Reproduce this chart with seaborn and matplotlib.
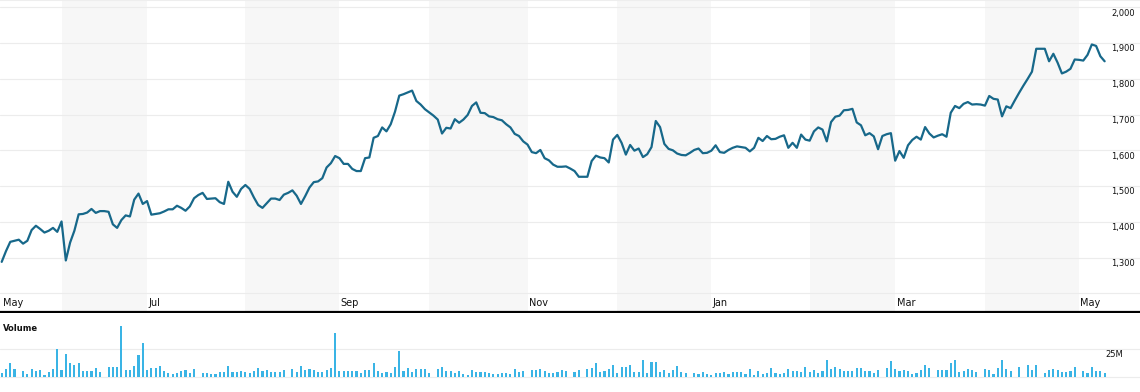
import matplotlib

matplotlib.use("Agg")

import matplotlib.pyplot as plt
import numpy as np
import pandas as pd
import seaborn as sns


# trading-day calendar: one label per month, shaded every other month
MONTH_LABELS = ["May", "Jun", "Jul", "Aug", "Sep", "Oct", "Nov", "Dec",
                "Jan", "Feb", "Mar", "Apr", "May"]
MONTH_DAYS = [14, 20, 23, 22, 21, 23, 21, 22, 23, 20, 21, 22, 7]

CLOSE = [
    1288, 1318, 1344, 1347, 1350, 1339, 1347, 1377, 1389, 1380, 1370, 1375, 1383, 1372, 1401,
    1292, 1342, 1375, 1421, 1422, 1426, 1436, 1425, 1430, 1430, 1428, 1393, 1383, 1405, 1418,
    1415, 1462, 1479, 1450, 1458, 1420, 1422, 1424, 1429, 1435, 1435, 1445, 1439, 1431, 1443,
    1466, 1475, 1481, 1464, 1465, 1466, 1455, 1450, 1512, 1484, 1470, 1492, 1503, 1492, 1468,
    1447, 1439, 1452, 1465, 1465, 1461, 1476, 1481, 1488, 1473, 1450, 1472, 1496, 1511, 1513,
    1522, 1552, 1564, 1584, 1578, 1562, 1562, 1548, 1542, 1542, 1578, 1580, 1635,
    1640, 1664, 1653, 1673, 1708, 1753, 1757, 1762, 1767, 1738, 1728, 1715, 1706, 1697, 1686,
    1647, 1663, 1661, 1687, 1677, 1686, 1699, 1724, 1734, 1705, 1704, 1695, 1693, 1687, 1684,
    1673, 1664, 1646, 1640, 1625, 1616, 1595, 1592, 1601, 1578, 1572, 1560, 1554, 1554,
    1555, 1549, 1542, 1526, 1526, 1526, 1570, 1585, 1580, 1578, 1566, 1630, 1643, 1621, 1588,
    1615, 1599, 1605, 1581, 1589, 1609, 1682, 1665, 1618, 1604, 1600, 1591, 1587, 1586, 1593,
    1601, 1605, 1592, 1593, 1599, 1614, 1595, 1593, 1601, 1607, 1611, 1609, 1607, 1597,
    1607, 1635, 1626, 1640, 1631, 1632, 1638, 1642, 1607, 1621, 1607, 1644, 1630, 1627, 1653,
    1664, 1658, 1625, 1679, 1694, 1697, 1712, 1713, 1716, 1678, 1670, 1642, 1648, 1639, 1603,
    1640, 1645, 1648, 1571, 1598, 1579, 1614, 1629, 1638, 1630, 1665, 1647, 1636,
    1641, 1645, 1638, 1705, 1724, 1718, 1730, 1735, 1728, 1729, 1728, 1725, 1752, 1744, 1742,
    1695, 1723, 1718, 1740, 1761, 1781, 1800, 1820, 1884, 1884, 1884, 1849, 1870, 1845, 1815,
    1820, 1828, 1854, 1853, 1851, 1867, 1896, 1892, 1863, 1849,
]

# volume in millions of shares
VOLUME_M = [
    3.7, 7.0, 12.8, 7.3, 0, 5.5, 2.4, 7.0, 5.5, 6.1, 1.8, 4.6, 7.3, 25.3, 6.4, 20.7, 12.8, 10.7,
    12.8, 5.2, 5.2, 5.5, 7.9, 4.6, 0, 8.8, 8.8, 8.8, 45.7, 6.1, 6.4, 9.8, 19.8, 30.2, 6.1, 7.9,
    7.9, 9.8, 5.5, 3.7, 2.7, 3.7, 4.9, 6.4, 3.4, 6.7, 0, 3.7, 3.7, 3.0, 2.4, 4.6, 4.6, 9.8, 4.6,
    4.6, 5.2, 4.3, 3.7, 4.9, 7.6, 5.5, 6.1, 4.6, 4.6, 4.6, 6.1, 0, 7.0, 4.6, 9.8, 6.4, 7.0, 6.4,
    4.6, 4.6, 6.1, 7.9, 39.0, 5.2, 4.9, 5.2, 5.2, 5.2, 3.7, 6.1, 6.1, 12.8, 5.2,
    3.7, 4.6, 3.7, 8.8, 22.9, 5.5, 7.9, 4.6, 7.0, 7.0, 7.0, 3.7, 0, 7.0, 8.8, 5.5, 5.5, 3.7, 5.2,
    2.4, 1.5, 6.1, 4.3, 4.3, 4.3, 3.7, 2.7, 2.7, 3.7, 3.7, 2.7, 7.0, 4.6, 5.5, 0, 6.1, 6.1, 7.0,
    5.5, 3.7, 3.7, 4.6, 6.1, 5.5, 0, 4.6, 6.1, 0, 7.0, 7.9, 12.8, 4.6, 5.5, 7.0, 10.7, 3.7, 8.8,
    8.8, 10.7, 4.6, 4.6, 15.3, 3.7, 13.4, 13.4, 4.6, 6.1, 3.7, 6.1, 9.8, 4.6, 3.7, 0, 3.7, 2.7,
    4.6, 2.7, 1.8, 3.7, 3.7, 4.6, 2.7, 4.6, 4.6, 4.6, 2.7, 7.0, 1.8, 5.2,
    2.4, 3.7, 7.9, 3.7, 2.7, 3.7, 7.0, 5.5, 5.5, 4.6, 8.8, 4.6, 6.1, 3.7, 5.5, 15.3, 7.0, 8.8,
    7.0, 5.5, 5.5, 5.5, 7.9, 7.9, 5.5, 5.5, 3.7, 6.1, 0, 7.9, 14.3, 7.0, 5.5, 6.1, 5.5, 2.7, 3.7,
    6.1, 10.7, 7.9, 0, 6.1, 6.1, 6.1, 12.8, 15.3, 4.6, 5.5, 7.0, 6.1, 4.6, 0, 7.0, 6.1, 2.7, 7.9,
    15.3, 7.0, 5.5, 0, 8.8, 0, 10.7, 6.1, 10.7, 0, 3.7, 6.1, 7.0, 6.1, 4.6, 4.6, 5.5, 8.8, 0,
    5.5, 3.7, 8.8, 5.5, 5.5, 3.7,
]

PRICE_GRID = list(range(1200, 2001, 100))
PRICE_LABELS = PRICE_GRID[1:]
VOLUME_GRID = [0, 25]
VOLUME_LABEL = "25M"

LINE_COLOR = "#17688a"
BAR_COLOR = "#3ab4e5"
SHADE_COLOR = "#f7f7f7"
GRID_COLOR = "#ececec"
TEXT_COLOR = "#111111"


def main() -> None:
    sns.set_theme(style="white")
    plt.rcParams["font.family"] = ["DejaVu Sans"]

    df = pd.DataFrame({"day": np.arange(len(CLOSE)), "close": CLOSE, "volume": VOLUME_M})
    starts = np.concatenate([[0], np.cumsum(MONTH_DAYS)])

    W, H = 1140, 392
    fig = plt.figure(figsize=(W / 100, H / 100), dpi=100)
    ax = fig.add_axes([0, 80 / H, 1, 312 / H])
    vax = fig.add_axes([0, 0, 1, 79 / H])

    px_per_day = 4.275
    xlim = (-1.7 / px_per_day, (W - 1.7) / px_per_day)

    # price panel
    for k, label in enumerate(MONTH_LABELS):
        if k % 2 == 1:
            ax.axvspan(starts[k], starts[k + 1], color=SHADE_COLOR, lw=0, zorder=0)
        else:
            ax.annotate(label, xy=(starts[k], 0.03), xycoords=("data", "axes fraction"),
                        xytext=(1, 0), textcoords="offset points",
                        ha="left", va="center", fontsize=7, color=TEXT_COLOR)
    for v in PRICE_GRID:
        ax.axhline(v, color=GRID_COLOR, lw=0.8, zorder=1)

    sns.lineplot(data=df, x="day", y="close", color=LINE_COLOR, linewidth=1.6, ax=ax, zorder=3)

    for v in PRICE_LABELS:
        ax.annotate(f"{v:,}", xy=(1111 / W, v), xycoords=("axes fraction", "data"),
                    xytext=(0, -1), textcoords="offset points",
                    ha="left", va="top", fontsize=6, color=TEXT_COLOR)

    ax.set_xlim(*xlim)
    ax.set_ylim(1147.8, 2020.4)
    ax.set_xticks([])
    ax.set_yticks([])
    ax.set_xlabel("")
    ax.set_ylabel("")
    for side in ("left", "right"):
        ax.spines[side].set_visible(False)
    ax.spines["top"].set_color("#eeeeee")
    ax.spines["top"].set_linewidth(0.8)
    ax.spines["bottom"].set_color("black")
    ax.spines["bottom"].set_linewidth(1.6)

    # volume panel
    for v in VOLUME_GRID:
        vax.axhline(v, color=GRID_COLOR, lw=0.8, zorder=0)
    sns.barplot(data=df, x="day", y="volume", native_scale=True, width=0.5,
                color=BAR_COLOR, saturation=1, linewidth=0, errorbar=None, ax=vax, zorder=2)
    for bar in vax.patches:
        bar.set_antialiased(False)
    vax.set_xlim(*xlim)
    vax.set_ylim(-13.4, 57.1)
    vax.set_xticks([])
    vax.set_yticks([])
    vax.set_xlabel("")
    vax.set_ylabel("")
    for side in ("left", "right", "top", "bottom"):
        vax.spines[side].set_visible(False)
    vax.text(3 / W, 0.81, "Volume", transform=vax.transAxes, ha="left", va="center",
             fontsize=6, fontweight="bold", color=TEXT_COLOR)
    vax.annotate(VOLUME_LABEL, xy=(1105 / W, VOLUME_GRID[1]), xycoords=("axes fraction", "data"),
                 xytext=(0, -1), textcoords="offset points",
                 ha="left", va="top", fontsize=6, color=TEXT_COLOR)

    fig.savefig("out.png", dpi=100)
    plt.close(fig)


if __name__ == "__main__":
    main()
